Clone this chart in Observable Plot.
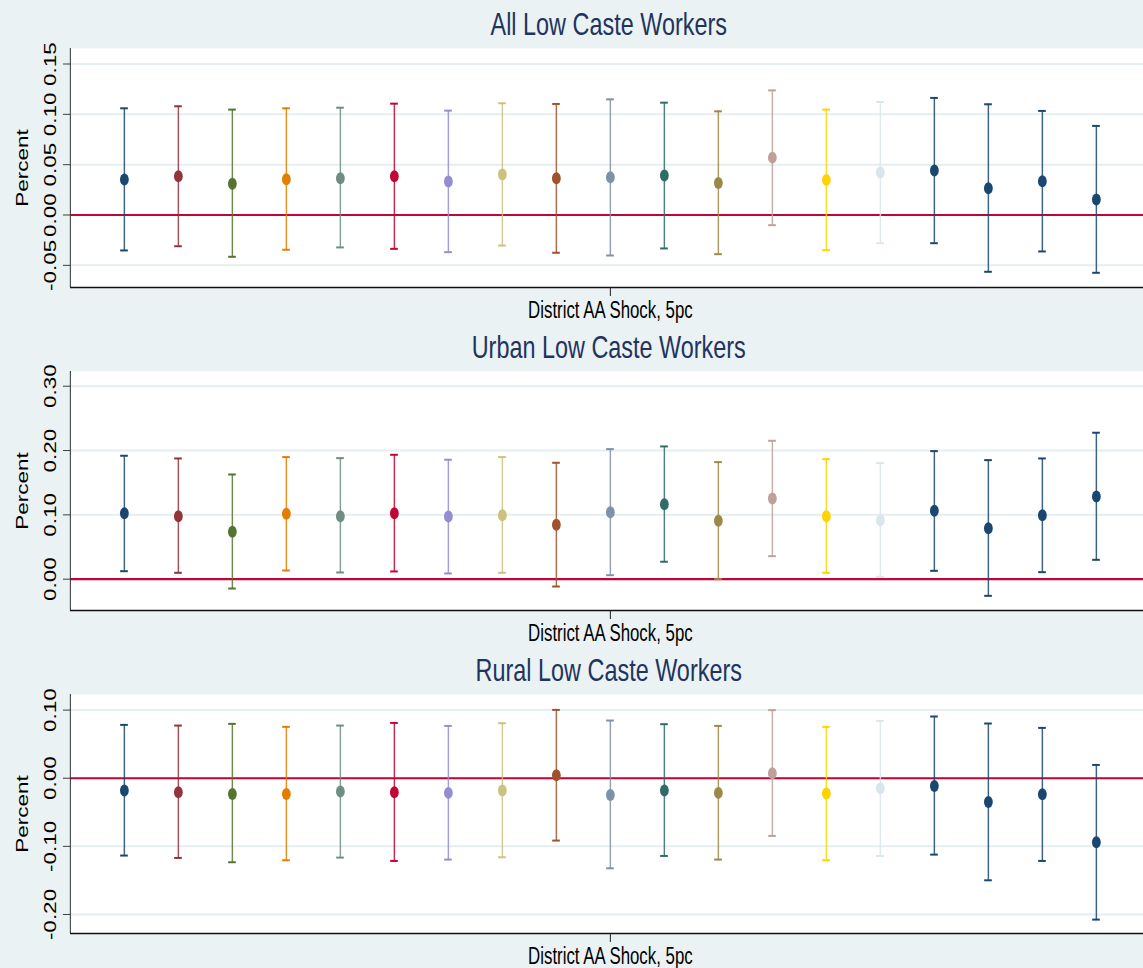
<!DOCTYPE html>
<html>
<head>
<meta charset="utf-8">
<script src="https://cdn.jsdelivr.net/npm/d3@7"></script>
<script src="https://cdn.jsdelivr.net/npm/@observablehq/plot@0.6"></script>
<style>
  html, body { margin: 0; padding: 0; background: #eaf2f3; }
  #chart svg { display: block; }
</style>
</head>
<body>
<div id="chart"></div>
<script>
// ---- data ----
const specs = [1, 2, 3, 4, 5, 6, 7, 8, 9, 10, 11, 12, 13, 14, 15, 16, 17, 18, 19];
const colors = ["#1a476f", "#90353b", "#55752f", "#e37e00", "#6e8e84", "#c10534", "#938dd2", "#cac27e", "#a0522d", "#7b92a8",
                "#2d6d66", "#9c8847", "#bfa19c", "#ffd200", "#d9e6eb", "#1a476f", "#1a476f", "#1a476f", "#1a476f"];

const titles = ["All Low Caste Workers", "Urban Low Caste Workers", "Rural Low Caste Workers"];
const xLabel = "District AA Shock, 5pc";
const yLabel = "Percent";

const allEst = [0.0352, 0.0385, 0.031, 0.0355, 0.0365, 0.0385, 0.0332, 0.0402, 0.0365, 0.0375, 0.0392, 0.0319, 0.057, 0.0349, 0.0422, 0.0441, 0.0266, 0.0336, 0.0154];
const allHi  = [0.106, 0.108, 0.1047, 0.106, 0.1066, 0.1106, 0.1037, 0.111, 0.1103, 0.1149, 0.1116, 0.103, 0.1238, 0.1047, 0.1123, 0.1163, 0.110, 0.1034, 0.0885];
const allLo  = [-0.0352, -0.031, -0.0415, -0.0345, -0.0322, -0.0336, -0.0369, -0.0303, -0.0375, -0.0402, -0.0332, -0.0389, -0.0101, -0.0349, -0.028, -0.028, -0.0564, -0.0362, -0.0574];

const urbEst = [0.1026, 0.098, 0.0737, 0.1017, 0.098, 0.1026, 0.0975, 0.0995, 0.0846, 0.1042, 0.1166, 0.0908, 0.1255, 0.098, 0.0918, 0.1063, 0.0793, 0.0995, 0.1286];
const urbHi  = [0.1919, 0.1877, 0.1628, 0.1898, 0.1882, 0.1934, 0.1857, 0.1898, 0.181, 0.2022, 0.2064, 0.182, 0.2152, 0.1866, 0.1804, 0.1991, 0.1851, 0.1877, 0.2277];
const urbLo  = [0.0124, 0.0099, -0.0145, 0.0135, 0.0104, 0.012, 0.0089, 0.0099, -0.0114, 0.0062, 0.0271, 0.0, 0.0358, 0.0099, 0.0037, 0.013, -0.0259, 0.0109, 0.0301];

const rurEst = [-0.0181, -0.0206, -0.023, -0.023, -0.0196, -0.0206, -0.0215, -0.0181, 0.0044, -0.0245, -0.0181, -0.0215, 0.0073, -0.0225, -0.0147, -0.0113, -0.0348, -0.0235, -0.094];
const rurHi  = [0.0783, 0.0773, 0.0798, 0.0754, 0.0773, 0.0812, 0.0768, 0.0808, 0.1003, 0.0847, 0.0793, 0.0768, 0.0999, 0.0754, 0.0842, 0.0906, 0.0803, 0.0739, 0.0195];
const rurLo  = [-0.1135, -0.117, -0.1233, -0.1204, -0.1165, -0.1214, -0.1194, -0.116, -0.0915, -0.1322, -0.1141, -0.1194, -0.0847, -0.1204, -0.1141, -0.1121, -0.1498, -0.1214, -0.2075];

const allTicks = [-0.05, 0, 0.05, 0.10, 0.15];
const allTickLabels = ["-0.05", "0.00", "0.05", "0.10", "0.15"];
const urbTicks = [0, 0.1, 0.2, 0.3];
const urbTickLabels = ["0.00", "0.10", "0.20", "0.30"];
const rurTicks = [-0.2, -0.1, 0, 0.1];
const rurTickLabels = ["-0.20", "-0.10", "0.00", "0.10"];

// ---- layout ----
const S = 0.732;              // horizontal compression of the original picture
const PXW = 1143, H = 323;
const W = PXW / S;            // internal drawing width
const ML = 70 / S;            // left margin (internal units)
const STEP = 54 / S;          // distance between estimates (internal units)
const XMAX = (W - ML) / STEP;
const CAP = 0.071;            // half cap width in x units
const FONT = "'Liberation Sans', Arial, Helvetica, sans-serif";

function panel(title, est, lo, hi, ticks, tickLabels, yDomain) {
  const rows = specs.map((s, i) => ({spec: s, est: est[i], lo: lo[i], hi: hi[i], color: colors[i]}));
  const svg = Plot.plot({
    width: W,
    height: H,
    marginLeft: ML,
    marginRight: 0,
    marginTop: 48,
    marginBottom: 36,
    style: {fontFamily: FONT, background: "transparent", color: "black"},
    x: {domain: [0, XMAX]},
    y: {domain: yDomain},
    color: {type: "identity"},
    marks: [
      Plot.frame({fill: "white", stroke: "none"}),
      Plot.gridY(ticks, {stroke: "#e6eef1", strokeOpacity: 1, strokeWidth: 2}),
      Plot.ruleY([0], {stroke: "#c10534", strokeWidth: 2.2}),
      Plot.ruleX(rows, {x: "spec", y1: "lo", y2: "hi", stroke: "color", strokeWidth: 2, strokeOpacity: 0.85}),
      Plot.ruleY(rows, {y: "hi", x1: d => d.spec - CAP, x2: d => d.spec + CAP, stroke: "color", strokeWidth: 2}),
      Plot.ruleY(rows, {y: "lo", x1: d => d.spec - CAP, x2: d => d.spec + CAP, stroke: "color", strokeWidth: 2}),
      Plot.dot(rows, {x: "spec", y: "est", fill: "color", r: 6, stroke: "none"}),
      Plot.ruleX([0], {stroke: "#333", strokeWidth: 1.4}),
      Plot.ruleY([yDomain[0]], {stroke: "#111", strokeWidth: 1.6}),
      Plot.axisY({ticks: ticks, tickSize: 9.6, fill: "none", stroke: "#222", strokeWidth: 1, label: null}),
      Plot.axisX({ticks: [10], tickSize: 9, fill: "none", stroke: "#222", strokeWidth: 1.4, label: null}),
      Plot.text(ticks, {y: d => d, text: (d, i) => tickLabels[i], frameAnchor: "left", dx: -27.5,
                        rotate: -90, textAnchor: "middle", lineAnchor: "middle", fontSize: 22.5, fill: "black"}),
      Plot.text([yLabel], {text: d => d, frameAnchor: "left", dx: -65.3, rotate: -90,
                           textAnchor: "middle", lineAnchor: "middle", fontSize: 22.5, fill: "black"}),
      Plot.text([xLabel], {text: d => d, x: () => 10, frameAnchor: "bottom", dy: 23.5,
                           lineAnchor: "middle", fontSize: 23, fill: "black"}),
      Plot.text([title], {text: d => d, x: () => 9.97, frameAnchor: "top", dy: -24,
                          lineAnchor: "middle", fontSize: 32, fill: "#22345e"})
    ]
  });
  svg.setAttribute("width", PXW);
  svg.setAttribute("height", H);
  svg.setAttribute("preserveAspectRatio", "none");
  svg.style.width = PXW + "px";
  svg.style.height = H + "px";
  svg.style.maxWidth = "none";
  return svg;
}

const root = document.getElementById("chart");
root.appendChild(panel(titles[0], allEst, allLo, allHi, allTicks, allTickLabels, [-0.0720, 0.1654]));
root.appendChild(panel(titles[1], urbEst, urbLo, urbHi, urbTicks, urbTickLabels, [-0.0487, 0.3229]));
root.appendChild(panel(titles[2], rurEst, rurLo, rurHi, rurTicks, rurTickLabels, [-0.2279, 0.1229]));
</script>
</body>
</html>
